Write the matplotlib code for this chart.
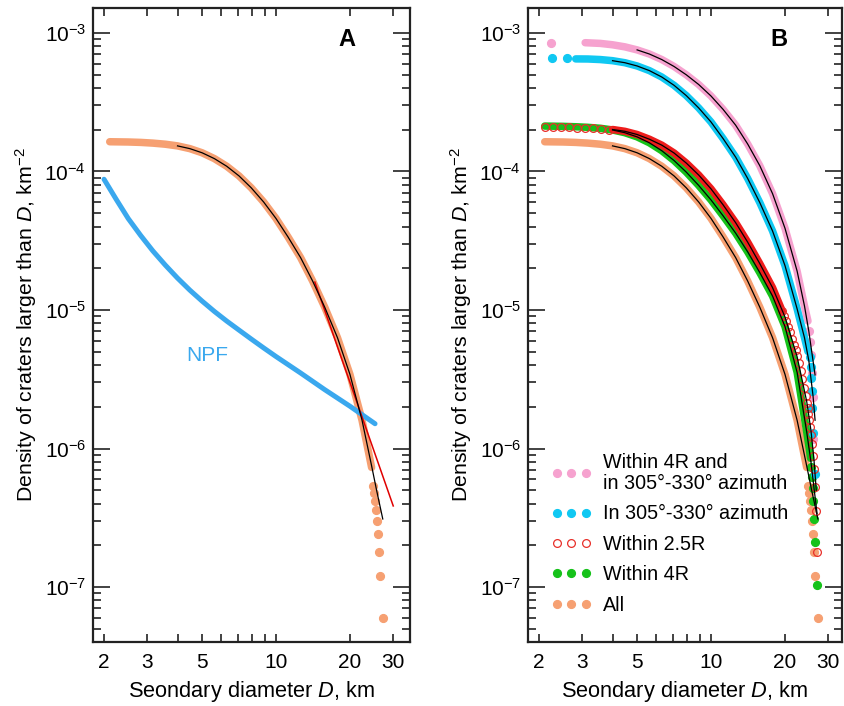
import matplotlib
matplotlib.use('Agg')
import math
import matplotlib.pyplot as plt
from matplotlib.ticker import FixedLocator, FuncFormatter, NullFormatter
from matplotlib.lines import Line2D

plt.rcParams['font.family'] = 'Liberation Sans'
plt.rcParams['mathtext.fontset'] = 'custom'
plt.rcParams['mathtext.rm'] = 'Liberation Sans'
plt.rcParams['mathtext.it'] = 'Liberation Sans:italic'

# ---- data: diameter D (km), cumulative density N (km^-2) ----
# All craters (both panels)
all_D = [2.11, 2.51, 2.82, 3.16, 3.55, 3.98, 4.47, 5.01, 5.62, 6.31, 7.08, 7.94, 8.91, 10.0,
         11.2, 12.6, 14.1, 15.8, 17.8, 20.0, 22.4, 24.5]
all_N = [1.64e-4, 1.633e-4, 1.622e-4, 1.603e-4, 1.574e-4, 1.531e-4, 1.462e-4, 1.365e-4,
         1.239e-4, 1.091e-4, 9.29e-5, 7.62e-5, 6.03e-5, 4.59e-5, 3.37e-5, 2.39e-5, 1.62e-5,
         1.047e-5, 6.31e-6, 3.43e-6, 1.60e-6, 7.3e-7]
all_tail_D = [24.9, 25.1, 25.3, 25.6, 25.8, 26.0, 26.2, 26.5, 27.2]
all_tail_N = [5.4e-7, 4.8e-7, 4.2e-7, 3.6e-7, 3.0e-7, 2.4e-7, 1.8e-7, 1.2e-7, 6.0e-8]
all_fit_D = [3.98, 4.47, 5.01, 5.62, 6.31, 7.08, 7.94, 8.91, 10.0, 11.2, 12.6, 14.1, 15.8,
             17.8, 20.0, 22.4, 24.5, 25.7, 27.2]
all_fit_N = [1.531e-4, 1.462e-4, 1.365e-4, 1.239e-4, 1.091e-4, 9.29e-5, 7.62e-5, 6.03e-5,
             4.59e-5, 3.37e-5, 2.39e-5, 1.62e-5, 1.047e-5, 6.31e-6, 3.43e-6, 1.60e-6, 7.5e-7,
             4.95e-7, 3.1e-7]

# power-law fit (panel A, red)
pl_D = [14.4, 30.0]
pl_N = [1.59e-5, 3.85e-7]

# NPF
npf_D = [2.0, 2.24, 2.51, 2.82, 3.16, 3.55, 3.98, 4.47, 5.01, 5.62, 6.31, 7.08, 7.94, 8.91,
         10.0, 12.6, 15.8, 20.0, 25.3]
npf_N = [8.79e-5, 6.31e-5, 4.57e-5, 3.45e-5, 2.67e-5, 2.11e-5, 1.70e-5, 1.39e-5, 1.16e-5,
         9.77e-6, 8.32e-6, 7.16e-6, 6.17e-6, 5.33e-6, 4.62e-6, 3.51e-6, 2.66e-6, 2.02e-6,
         1.51e-6]

# Within 4R
g_D = [2.11, 2.51, 2.82, 3.16, 3.55, 3.98, 4.47, 5.01, 5.62, 6.31, 7.08, 7.94, 8.91, 10.0,
       11.2, 12.6, 14.1, 15.8, 17.8, 20.0, 22.4, 24.5, 25.1, 25.4]
g_N = [2.128e-4, 2.118e-4, 2.104e-4, 2.084e-4, 2.051e-4, 1.995e-4, 1.905e-4, 1.778e-4,
       1.611e-4, 1.413e-4, 1.20e-4, 9.89e-5, 7.94e-5, 6.24e-5, 4.79e-5, 3.59e-5, 2.63e-5,
       1.86e-5, 1.26e-5, 7.59e-6, 3.55e-6, 1.32e-6, 1.0e-6, 8.5e-7]
g_tail_D = [25.6, 25.8, 26.0, 26.1, 26.3, 26.5, 27.0]
g_tail_N = [7.3e-7, 6.2e-7, 5.2e-7, 4.2e-7, 3.1e-7, 2.1e-7, 1.04e-7]
g_fit_D = [3.98, 4.47, 5.01, 5.62, 6.31, 7.08, 7.94, 8.91, 10.0, 11.2, 12.6, 14.1, 15.8, 17.8,
           20.0, 22.4, 24.5, 25.5, 26.3, 27.0]
g_fit_N = [1.995e-4, 1.905e-4, 1.778e-4, 1.611e-4, 1.413e-4, 1.20e-4, 9.89e-5, 7.94e-5,
           6.24e-5, 4.79e-5, 3.59e-5, 2.63e-5, 1.86e-5, 1.26e-5, 7.59e-6, 3.55e-6, 1.32e-6,
           8.0e-7, 5.0e-7, 3.4e-7]

# Within 2.5R
r_flat_D = [2.11, 2.27, 2.45, 2.64, 2.85, 3.07, 3.31, 3.57, 3.85]
r_flat_N = [2.10e-4, 2.10e-4, 2.09e-4, 2.08e-4, 2.07e-4, 2.06e-4, 2.05e-4, 2.03e-4, 2.01e-4]
r_D = [3.98, 4.47, 5.01, 5.62, 6.31, 7.08, 7.94, 8.91, 10.0, 11.2, 12.6, 14.1, 15.8, 17.8, 19.5]
r_N = [2.01e-4, 1.95e-4, 1.85e-4, 1.71e-4, 1.55e-4, 1.36e-4, 1.15e-4, 9.44e-5, 7.50e-5,
       5.75e-5, 4.27e-5, 3.09e-5, 2.16e-5, 1.45e-5, 9.8e-6]
r_open_D = [19.5, 19.86, 20.23, 20.6, 20.99, 21.38, 21.73, 22.08, 22.44, 22.8, 23.17, 23.55,
            23.93, 24.27, 24.5, 24.7, 24.9, 25.1, 25.3, 25.5, 25.7, 25.9, 26.2, 26.5, 26.7, 27.0]
r_open_N = [9.77e-6, 9.12e-6, 8.32e-6, 7.59e-6, 6.92e-6, 6.17e-6, 5.62e-6, 5.13e-6, 4.68e-6,
            4.17e-6, 3.63e-6, 3.16e-6, 2.75e-6, 2.4e-6, 2.14e-6, 1.96e-6, 1.78e-6, 1.6e-6,
            1.42e-6, 1.25e-6, 1.07e-6, 8.9e-7, 7.1e-7, 5.3e-7, 3.56e-7, 1.78e-7]
r_fit_D = [3.98, 4.47, 5.01, 5.62, 6.31, 7.08, 7.94, 8.91, 10.0, 11.2, 12.6, 14.1, 15.8, 17.8,
           20.0, 22.4, 24.5, 25.5, 26.2, 26.8]
r_fit_N = [2.01e-4, 1.95e-4, 1.85e-4, 1.71e-4, 1.55e-4, 1.36e-4, 1.15e-4, 9.44e-5, 7.50e-5,
           5.75e-5, 4.27e-5, 3.09e-5, 2.16e-5, 1.45e-5, 8.9e-6, 4.6e-6, 2.19e-6, 1.35e-6,
           8.5e-7, 5.0e-7]

# In 305-330 azimuth
c_iso_D = [2.25, 2.61]
c_iso_N = [6.6e-4, 6.55e-4]
c_D = [2.82, 3.16, 3.55, 3.98, 4.47, 5.01, 5.62, 6.31, 7.08, 7.94, 8.91, 10.0, 11.2, 12.6,
       14.1, 15.8, 17.8, 20.0, 22.4, 24.0, 24.8]
c_N = [6.5e-4, 6.49e-4, 6.43e-4, 6.31e-4, 6.1e-4, 5.78e-4, 5.35e-4, 4.81e-4, 4.19e-4,
       3.53e-4, 2.88e-4, 2.28e-4, 1.73e-4, 1.27e-4, 8.91e-5, 5.96e-5, 3.72e-5, 2.09e-5,
       1.02e-5, 6.31e-6, 5.01e-6]
c_tail_D = [25.2, 25.4, 25.6, 25.7, 25.8, 26.0, 26.4]
c_tail_N = [4.55e-6, 3.9e-6, 3.25e-6, 2.6e-6, 1.95e-6, 1.3e-6, 6.5e-7]
c_fit_D = [3.98, 4.47, 5.01, 5.62, 6.31, 7.08, 7.94, 8.91, 10.0, 11.2, 12.6, 14.1, 15.8, 17.8,
           20.0, 22.4, 24.0, 25.0, 26.0, 26.5]
c_fit_N = [6.31e-4, 6.1e-4, 5.78e-4, 5.35e-4, 4.81e-4, 4.19e-4, 3.53e-4, 2.88e-4, 2.28e-4,
           1.73e-4, 1.27e-4, 8.91e-5, 5.96e-5, 3.72e-5, 2.09e-5, 1.02e-5, 6.31e-6, 4.3e-6,
           2.4e-6, 1.6e-6]

# Within 4R and in 305-330 azimuth
p_iso_D = [2.24]
p_iso_N = [8.5e-4]
p_D = [3.08, 3.55, 3.98, 4.47, 5.01, 5.62, 6.31, 7.08, 7.94, 8.91, 10.0, 11.2, 12.6, 14.1,
       15.8, 17.8, 20.0, 22.4, 24.0, 24.8]
p_N = [8.51e-4, 8.41e-4, 8.22e-4, 7.94e-4, 7.55e-4, 7.05e-4, 6.43e-4, 5.73e-4, 4.99e-4,
       4.25e-4, 3.51e-4, 2.81e-4, 2.16e-4, 1.58e-4, 1.10e-4, 6.92e-5, 3.89e-5, 1.91e-5,
       1.07e-5, 8.32e-6]
p_tail_D = [25.0, 25.3, 25.6, 25.8, 26.0, 26.1]
p_tail_N = [7.0e-6, 5.85e-6, 4.7e-6, 3.5e-6, 2.34e-6, 1.17e-6]
p_fit_D = [5.01, 5.62, 6.31, 7.08, 7.94, 8.91, 10.0, 11.2, 12.6, 14.1, 15.8, 17.8, 20.0, 22.4,
           24.0, 25.0, 26.0, 26.5]
p_fit_N = [7.55e-4, 7.05e-4, 6.43e-4, 5.73e-4, 4.99e-4, 4.25e-4, 3.51e-4, 2.81e-4, 2.16e-4,
           1.58e-4, 1.10e-4, 6.92e-5, 3.89e-5, 1.91e-5, 1.07e-5, 7.0e-6, 4.3e-6, 3.4e-6]

c_all = '#f6a072'
c_green = '#16c21a'
c_red = '#ee1c1c'
c_redo = '#e8302a'
c_cyan = '#10c8f2'
c_pink = '#f6a2cf'
c_npf = '#3aa8ee'

MS = 5.6
BAND = 5.4

W, H = 844, 706
fig = plt.figure(figsize=(W / 100, H / 100), dpi=100)
axA = fig.add_axes([93 / W, 1 - 642 / H, (410 - 93) / W, (642 - 8) / H])
axB = fig.add_axes([528 / W, 1 - 642 / H, (842 - 528) / W, (642 - 8) / H])


def band(ax, D, N, color, z):
    ax.plot(D, N, '-', color=color, lw=BAND, solid_capstyle='round',
            solid_joinstyle='round', zorder=z)


def dots(ax, D, N, color, z):
    ax.plot(D, N, 'o', ls='none', color=color, ms=MS, mec=color, zorder=z)


# ---- panel A ----
band(axA, all_D, all_N, c_all, 2)
dots(axA, all_tail_D, all_tail_N, c_all, 2)
axA.plot(npf_D, npf_N, '-', color=c_npf, lw=3.6, solid_capstyle='round', zorder=3)
axA.plot(all_fit_D, all_fit_N, '-', color='black', lw=0.9, zorder=5)
axA.plot(pl_D, pl_N, '-', color='#e00000', lw=1.1, zorder=4)
axA.text(5.25, 4.7e-6, 'NPF', color=c_npf, fontsize=15, ha='center', va='center')

# ---- panel B ----
band(axB, all_D, all_N, c_all, 2)
dots(axB, all_tail_D, all_tail_N, c_all, 2)
band(axB, g_D, g_N, c_green, 3)
dots(axB, g_tail_D, g_tail_N, c_green, 3)
band(axB, r_D, r_N, c_red, 4)
axB.plot(r_flat_D + r_open_D, r_flat_N + r_open_N, 'o', ls='none', ms=MS, mfc='none',
         mec=c_redo, mew=0.9, zorder=4)
band(axB, c_D, c_N, c_cyan, 3)
dots(axB, c_iso_D + c_tail_D, c_iso_N + c_tail_N, c_cyan, 3)
band(axB, p_D, p_N, c_pink, 2)
dots(axB, p_iso_D + p_tail_D, p_iso_N + p_tail_N, c_pink, 2)
for fd, fn in [(all_fit_D, all_fit_N), (g_fit_D, g_fit_N), (r_fit_D, r_fit_N),
               (c_fit_D, c_fit_N), (p_fit_D, p_fit_N)]:
    axB.plot(fd, fn, '-', color='black', lw=0.9, zorder=6)

handles = [
    Line2D([], [], ls='none', marker='o', color=c_pink, ms=MS),
    Line2D([], [], ls='none', marker='o', color=c_cyan, ms=MS),
    Line2D([], [], ls='none', marker='o', mfc='none', mec=c_redo, mew=0.9, ms=MS),
    Line2D([], [], ls='none', marker='o', color=c_green, ms=MS),
    Line2D([], [], ls='none', marker='o', color=c_all, ms=MS),
]
labels = ['Within 4R and\nin 305°-330° azimuth', 'In 305°-330° azimuth',
          'Within 2.5R', 'Within 4R', 'All']
leg = axB.legend(handles, labels, loc='lower left', bbox_to_anchor=(0.072, 0.043),
                 frameon=False, numpoints=3, handlelength=2.1, handletextpad=0.55,
                 labelspacing=0.58, borderpad=0, borderaxespad=0, fontsize=14.2)
for t in leg.get_texts():
    t.set_linespacing(1.15)


def sup(v, pos):
    return r'$10^{%d}$' % round(math.log10(v))


for ax, xr, lab in [(axA, 35.1, 'A'), (axB, 34.1, 'B')]:
    ax.set_xscale('log')
    ax.set_yscale('log')
    ax.set_xlim(1.804, xr)
    ax.set_ylim(4.01e-8, 1.515e-3)
    ax.xaxis.set_major_locator(FixedLocator([2, 3, 5, 10, 20, 30]))
    ax.xaxis.set_minor_locator(FixedLocator([4, 6, 7, 8, 9]))
    ax.xaxis.set_major_formatter(FuncFormatter(lambda v, p: '%d' % v))
    ax.xaxis.set_minor_formatter(NullFormatter())
    ax.yaxis.set_major_locator(FixedLocator([1e-7, 1e-6, 1e-5, 1e-4, 1e-3]))
    ax.yaxis.set_minor_locator(FixedLocator([m * 10.0 ** e for e in range(-8, -2)
                                             for m in range(2, 10)]))
    ax.yaxis.set_major_formatter(FuncFormatter(sup))
    ax.yaxis.set_minor_formatter(NullFormatter())
    ax.tick_params(which='both', direction='in', top=True, right=True, width=1.2,
                   labelsize=15, color='#222222')
    ax.tick_params(axis='x', which='both', length=6, pad=8)
    ax.tick_params(axis='y', which='major', length=12, pad=5)
    ax.tick_params(axis='y', which='minor', length=6)
    for tk in ax.xaxis.get_major_ticks():
        if tk.get_loc() == 10:
            tk.tick1line.set_markersize(9)
            tk.tick2line.set_markersize(9)
    for s in ax.spines.values():
        s.set_linewidth(1.6)
        s.set_color('#222222')
    ax.set_xlabel('Seondary diameter $D$, km', fontsize=15.7)
    ax.set_ylabel('Density of craters larger than $D$, km$^{-2}$', fontsize=15.4)
    ax.xaxis.set_label_coords(0.5, -0.058)
    ax.text(0.80, 0.95, lab, transform=ax.transAxes, fontsize=17, fontweight='bold',
            ha='center', va='center')

axA.yaxis.set_label_coords(-0.170, 0.5)
axB.yaxis.set_label_coords(-0.172, 0.5)

fig.savefig('out.png', dpi=100)
